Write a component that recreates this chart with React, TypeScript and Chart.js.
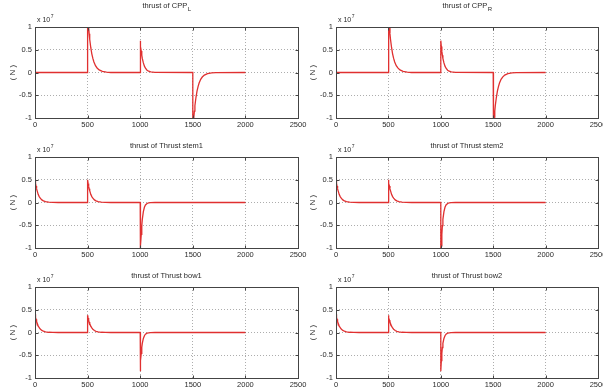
import React, { useEffect, useRef } from 'react';
import { Chart, registerables } from 'chart.js';

Chart.register(...registerables);

// ---- tick labels / axis text ----
const xTickValues = [0, 500, 1000, 1500, 2000, 2500];
const yTickValues = [-1, -0.5, 0, 0.5, 1];
const yAxisLabel = '( N )';
const scaleNote = 'x 10';
const scaleExp = '7';

// ---- series (values in units of 10^7 N) ----
const timeCPP = [
  0, 500, 500, 505, 510, 515, 520, 530, 540, 550, 560, 575, 590, 610, 640, 680, 720,
  1000, 1000, 1005, 1010, 1015, 1020, 1030, 1040, 1050, 1065, 1080, 1100, 1140,
  1500, 1500, 1505, 1510, 1515, 1520, 1530, 1540, 1550, 1560, 1575, 1590, 1610, 1640, 1680, 1720, 2000,
];
const thrustCPPL = [
  0, 0, 1.3, 1.13, 0.98, 0.85, 0.73, 0.55, 0.41, 0.31, 0.23, 0.15, 0.1, 0.056, 0.024, 0.008, 0,
  0, 0.7, 0.57, 0.47, 0.38, 0.31, 0.21, 0.14, 0.094, 0.051, 0.028, 0.013, 0.003,
  0, -1.3, -1.13, -0.98, -0.85, -0.73, -0.55, -0.41, -0.31, -0.23, -0.15, -0.1, -0.056, -0.024, -0.008, -0.002, 0,
];
const thrustCPPR = [
  0, 0, 1.3, 1.13, 0.98, 0.85, 0.73, 0.55, 0.41, 0.31, 0.23, 0.15, 0.1, 0.056, 0.024, 0.008, 0,
  0, 0.7, 0.57, 0.47, 0.38, 0.31, 0.21, 0.14, 0.094, 0.051, 0.028, 0.013, 0.003,
  0, -1.3, -1.13, -0.98, -0.85, -0.73, -0.55, -0.41, -0.31, -0.23, -0.15, -0.1, -0.056, -0.024, -0.008, -0.002, 0,
];

const timeThruster = [
  0, 5, 10, 15, 20, 30, 40, 50, 65, 80, 100, 130, 170, 220,
  500, 500, 505, 510, 515, 520, 530, 540, 550, 565, 580, 600, 630, 670, 720,
  1000, 1000, 1005, 1010, 1015, 1020, 1030, 1040, 1050, 1065, 1080, 1100, 1140, 2000,
];
const thrustStem1 = [
  0.5, 0.42, 0.36, 0.3, 0.26, 0.18, 0.13, 0.094, 0.057, 0.035, 0.018, 0.007, 0.002, 0,
  0, 0.5, 0.42, 0.36, 0.3, 0.26, 0.18, 0.13, 0.094, 0.057, 0.035, 0.018, 0.007, 0.002, 0,
  0, -1.3, -0.95, -0.7, -0.51, -0.37, -0.2, -0.105, -0.055, -0.022, -0.009, -0.003, 0, 0,
];
const thrustStem2 = [
  0.5, 0.42, 0.36, 0.3, 0.26, 0.18, 0.13, 0.094, 0.057, 0.035, 0.018, 0.007, 0.002, 0,
  0, 0.5, 0.42, 0.36, 0.3, 0.26, 0.18, 0.13, 0.094, 0.057, 0.035, 0.018, 0.007, 0.002, 0,
  0, -1.3, -0.95, -0.7, -0.51, -0.37, -0.2, -0.105, -0.055, -0.022, -0.009, -0.003, 0, 0,
];
const thrustBow1 = [
  0.4, 0.34, 0.29, 0.24, 0.21, 0.15, 0.105, 0.075, 0.046, 0.028, 0.014, 0.005, 0.0015, 0,
  0, 0.38, 0.32, 0.27, 0.23, 0.2, 0.14, 0.1, 0.071, 0.043, 0.026, 0.014, 0.005, 0.0015, 0,
  0, -0.85, -0.62, -0.46, -0.33, -0.24, -0.13, -0.07, -0.037, -0.015, -0.006, -0.002, 0, 0,
];
const thrustBow2 = [
  0.4, 0.34, 0.29, 0.24, 0.21, 0.15, 0.105, 0.075, 0.046, 0.028, 0.014, 0.005, 0.0015, 0,
  0, 0.38, 0.32, 0.27, 0.23, 0.2, 0.14, 0.1, 0.071, 0.043, 0.026, 0.014, 0.005, 0.0015, 0,
  0, -0.85, -0.62, -0.46, -0.33, -0.24, -0.13, -0.07, -0.037, -0.015, -0.006, -0.002, 0, 0,
];

const panels = [
  { title: 'thrust of CPP', sub: 'L', t: timeCPP, y: thrustCPPL, col: 0, row: 0 },
  { title: 'thrust of CPP', sub: 'R', t: timeCPP, y: thrustCPPR, col: 1, row: 0 },
  { title: 'thrust of Thrust stem1', sub: '', t: timeThruster, y: thrustStem1, col: 0, row: 1 },
  { title: 'thrust of Thrust stem2', sub: '', t: timeThruster, y: thrustStem2, col: 1, row: 1 },
  { title: 'thrust of Thrust bow1', sub: '', t: timeThruster, y: thrustBow1, col: 0, row: 2 },
  { title: 'thrust of Thrust bow2', sub: '', t: timeThruster, y: thrustBow2, col: 1, row: 2 },
];

// ---- layout ----
const COLS = [
  { left: 0, width: 310, axisW: 35, padR: 12 },
  { left: 300, width: 303, axisW: 36, padR: 5 },
];
const ROWS = [
  { top: 0, height: 130, xH: 12, titleY: 6 },
  { top: 130, height: 130, xH: 12, titleY: 16 },
  { top: 260, height: 132, xH: 14, titleY: 16 },
];
const FAMILY = '"Liberation Sans", Arial, Helvetica, sans-serif';
const TEXT = '#2a2a2a';

function makeFrame(title: string, sub: string, titleY: number) {
  return {
    id: 'matlabFrame',
    afterDraw(chart: any) {
      const { ctx, chartArea: a, scales } = chart;
      ctx.save();
      const L = a.left + 0.5, R = a.right + 0.5, T = a.top + 0.5, B = a.bottom + 0.5;
      ctx.strokeStyle = '#444';
      ctx.lineWidth = 1;
      ctx.setLineDash([]);
      ctx.strokeRect(L, T, R - L, B - T);
      // inward ticks
      ctx.beginPath();
      xTickValues.forEach((v) => {
        const px = Math.round(scales.x.getPixelForValue(v)) + 0.5;
        ctx.moveTo(px, B); ctx.lineTo(px, B - 3);
        ctx.moveTo(px, T); ctx.lineTo(px, T + 3);
      });
      yTickValues.forEach((v) => {
        const py = Math.round(scales.y.getPixelForValue(v)) + 0.5;
        ctx.moveTo(L, py); ctx.lineTo(L + 3, py);
        ctx.moveTo(R, py); ctx.lineTo(R - 3, py);
      });
      ctx.stroke();
      // title
      ctx.fillStyle = TEXT;
      ctx.textBaseline = 'middle';
      ctx.textAlign = 'left';
      const mainFont = `7.5px ${FAMILY}`;
      const subFont = `6px ${FAMILY}`;
      ctx.font = mainFont;
      const w1 = ctx.measureText(title).width;
      ctx.font = subFont;
      const w2 = sub ? ctx.measureText(sub).width : 0;
      const cx = (a.left + a.right) / 2;
      const x0 = cx - (w1 + w2) / 2;
      ctx.font = mainFont;
      ctx.fillText(title, x0, titleY);
      if (sub) {
        ctx.font = subFont;
        ctx.fillText(sub, x0 + w1 + 0.5, titleY + 3.5);
      }
      // x 10^7
      ctx.font = `7px ${FAMILY}`;
      const nx = a.left + 2;
      const ny = a.top - 7;
      ctx.fillText(scaleNote, nx, ny);
      const wn = ctx.measureText(scaleNote).width;
      ctx.font = `5px ${FAMILY}`;
      ctx.fillText(scaleExp, nx + wn + 0.5, ny - 3);
      ctx.restore();
    },
  };
}

function Panel({ p }: { p: (typeof panels)[number] }) {
  const ref = useRef<HTMLCanvasElement>(null);
  const col = COLS[p.col];
  const row = ROWS[p.row];
  useEffect(() => {
    const tickFont = { size: 7.5, family: FAMILY };
    const chart = new Chart(ref.current as HTMLCanvasElement, {
      type: 'line',
      data: {
        datasets: [
          {
            data: p.t.map((x, i) => ({ x, y: p.y[i] })),
            borderColor: 'rgb(224,48,48)',
            borderWidth: 1.3,
            pointRadius: 0,
            tension: 0,
            fill: false,
          },
        ],
      },
      options: {
        responsive: false,
        maintainAspectRatio: false,
        animation: false,
        events: [],
        layout: { autoPadding: false, padding: { top: 27, right: col.padR, left: 0, bottom: 0 } },
        plugins: { legend: { display: false }, tooltip: { enabled: false }, title: { display: false } },
        scales: {
          x: {
            type: 'linear',
            min: 0,
            max: 2500,
            afterBuildTicks: (s: any) => { s.ticks = xTickValues.map((v) => ({ value: v })); },
            afterFit: (s: any) => { s.height = row.xH; s.paddingLeft = 0; s.paddingRight = 0; },
            ticks: { padding: 2, maxRotation: 0, autoSkip: false, font: tickFont, color: TEXT, callback: (v: any) => String(v) },
            grid: { color: 'rgba(0,0,0,0.32)', drawTicks: false, lineWidth: 1 },
            border: { display: false, dash: [1, 2] },
          },
          y: {
            type: 'linear',
            min: -1,
            max: 1,
            afterBuildTicks: (s: any) => { s.ticks = yTickValues.map((v) => ({ value: v })); },
            afterFit: (s: any) => { s.width = col.axisW; s.paddingTop = 0; s.paddingBottom = 0; },
            ticks: { padding: 3, autoSkip: false, font: tickFont, color: TEXT, callback: (v: any) => String(v) },
            title: { display: true, text: yAxisLabel, color: TEXT, font: { size: 8, family: FAMILY }, padding: { top: 8, bottom: 0 } },
            grid: { color: 'rgba(0,0,0,0.32)', drawTicks: false, lineWidth: 1 },
            border: { display: false, dash: [1, 2] },
          },
        },
      } as any,
      plugins: [makeFrame(p.title, p.sub, row.titleY)],
    });
    return () => chart.destroy();
  }, []);
  return (
    <canvas
      ref={ref}
      width={col.width}
      height={row.height}
      style={{ position: 'absolute', left: col.left, top: row.top, width: col.width, height: row.height }}
    />
  );
}

export default function App() {
  return (
    <div style={{ position: 'fixed', left: 0, top: 0, width: 603, height: 392, background: '#fff', overflow: 'hidden' }}>
      {panels.map((p, i) => (
        <Panel key={i} p={p} />
      ))}
    </div>
  );
}
